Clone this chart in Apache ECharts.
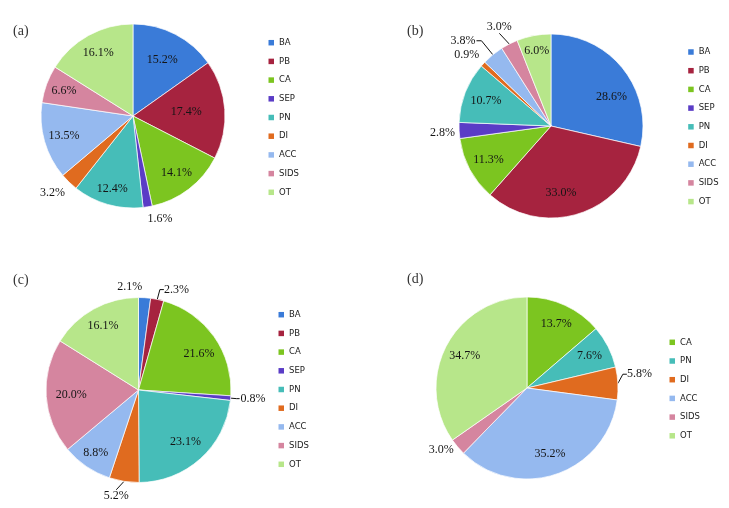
<!DOCTYPE html>
<html><head><meta charset="utf-8">
<script src="https://cdn.jsdelivr.net/npm/echarts@6/dist/echarts.min.js"></script>
<style>html,body{margin:0;padding:0;background:#fff}#c{width:729px;height:508px}</style>
</head><body><div id="c"></div>
<script>
// ---- data ----
const catsABC = ['BA','PB','CA','SEP','PN','DI','ACC','SIDS','OT'];
const valsA = [15.2, 17.4, 14.1, 1.6, 12.4, 3.2, 13.5, 6.6, 16.1];
const valsB = [28.6, 33.0, 11.3, 2.8, 10.7, 0.9, 3.8, 3.0, 6.0];
const valsC = [2.1, 2.3, 21.6, 0.8, 23.1, 5.2, 8.8, 20.0, 16.1];
const catsD = ['CA','PN','DI','ACC','SIDS','OT'];
const valsD = [13.7, 7.6, 5.8, 35.2, 3.0, 34.7];
const panelTitles = ['(a)','(b)','(c)','(d)'];

// ---- styling / layout ----
const colorOf = {BA:'#3a7bd8', PB:'#a6233f', CA:'#7cc520', SEP:'#5a3cc6', PN:'#46bdb8',
  DI:'#e06b1f', ACC:'#95b9ef', SIDS:'#d5859f', OT:'#b7e68a'};

const panels = [
  {cats: catsABC, vals: valsA, center:[133,116], r:92, tpos:[13,23], lpos:[268.5,37.7],
   inside:{0:[0.69],1:[0.58],2:[0.78],4:[0.82],6:[0.78],7:[0.80],8:[0.78]},
   outside:{3:{line:false,len:12,len2:0,dx:-2,dy:0}, 5:{line:false,len:13,len2:0,dx:5,dy:1}}},
  {cats: catsABC, vals: valsB, center:[551,126], r:92, tpos:[407,23], lpos:[688.2,47],
   inside:{0:[0.73,8,13],1:[0.73,-10.6,2.7],2:[0.77],4:[0.76],8:[0.83]},
   outside:{3:{line:false,len:4,len2:0,dx:0,dy:2}, 5:{line:false,len:5,len2:0,dx:0,dy:-6},
            6:{line:true,len:18,len2:5}, 7:{line:true,len:12,len2:0,dx:9,dy:-6}}},
  {cats: catsABC, vals: valsC, center:[138.5,390], r:92.5, tpos:[13,272], lpos:[278.5,309.7],
   inside:{2:[0.76,3,4.6],4:[0.76],6:[0.82],7:[0.73],8:[0.79]},
   outside:{0:{line:false,len:11,len2:0,dx:-28,dy:0}, 1:{line:true,len:8,len2:4,dx:0,dy:-2},
            3:{line:true,len:6,len2:3}, 5:{line:true,len:8,len2:0,dx:7,dy:6.5}}},
  {cats: catsD, vals: valsD, center:[527,388], r:91, tpos:[407,271], lpos:[669.5,337.3],
   inside:{0:[0.77],1:[0.77],3:[0.77],5:[0.77]},
   outside:{2:{line:true,len:4,len2:4,dx:0,dy:-9}, 4:{line:false,len:5,len2:0}}}
];

const chart = echarts.init(document.getElementById('c'), null, {renderer:'canvas'});

function makeSeries(P){
  const cx = P.center[0], cy = P.center[1], r = P.r;
  const data = P.cats.map((name, i) => {
    const item = {name: name, value: P.vals[i], itemStyle:{color: colorOf[name]}};
    const o = P.outside[i];
    if (o) {
      item.label = {position:'outside', distanceToLabelLine: o.line ? 1 : 0};
      item.labelLine = {show: o.line, length: o.len, length2: o.len2};
    }
    return item;
  });
  return {
    type:'pie', center:[cx, cy], radius: r, startAngle: 90, clockwise: true,
    avoidLabelOverlap: false, animation: false, silent: true,
    itemStyle:{borderColor:'#ffffff', borderWidth:0.7},
    label:{show:true, position:'inside', formatter: p => p.value.toFixed(1) + '%',
      fontFamily:'Liberation Serif', fontSize:12, color:'#151515'},
    labelLine:{show:false, smooth:false, lineStyle:{color:'#111', width:1}},
    emphasis:{disabled:true},
    data: data,
    labelLayout: function(p){
      const i = p.dataIndex;
      const rc = p.labelRect;
      const lx = rc.x + rc.width/2, ly = rc.y + rc.height/2;
      const ins = P.inside[i];
      if (ins) {
        const vx = lx - cx, vy = ly - cy, d = Math.hypot(vx, vy) || 1;
        return {x: cx + vx/d*ins[0]*r + (ins[1]||0), y: cy + vy/d*ins[0]*r + (ins[2]||0),
                align:'center', verticalAlign:'middle'};
      }
      const o = P.outside[i];
      if (o && (o.dx || o.dy)) {
        return {x: lx + (o.dx||0), y: ly + (o.dy||0), align:'center', verticalAlign:'middle'};
      }
      return {};
    }
  };
}

chart.setOption({
  animation:false,
  backgroundColor:'#ffffff',
  title: panels.map((P, k) => ({text: panelTitles[k], left:P.tpos[0], top:P.tpos[1], padding:0,
    textStyle:{fontFamily:'Liberation Serif', fontSize:14, fontWeight:'normal', color:'#333', lineHeight:16}})),
  legend: panels.map(P => ({orient:'vertical', left:P.lpos[0], top:P.lpos[1], padding:0,
    itemWidth:5.5, itemHeight:5.5, itemGap:8.7, icon:'rect', data:P.cats, selectedMode:false,
    itemStyle:{borderWidth:0},
    textStyle:{fontFamily:'DejaVu Sans', fontSize:8.5, color:'#222', lineHeight:10}})),
  series: panels.map(makeSeries)
});
</script>
</body></html>
